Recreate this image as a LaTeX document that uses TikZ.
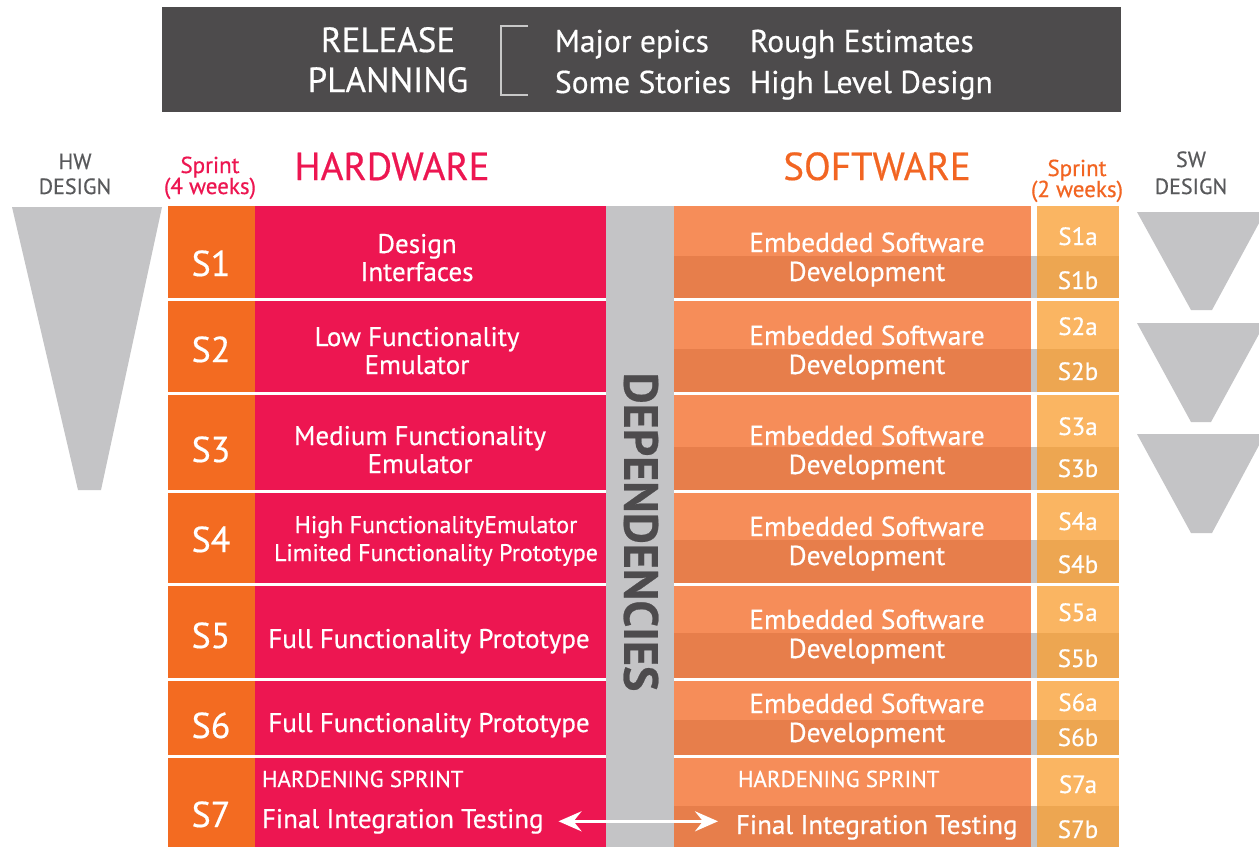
\documentclass[tikz,border=0pt]{standalone}
\usepackage{fontspec}
\setmainfont{PT Sans}[FakeBold=0.5]
\usetikzlibrary{arrows.meta,calc}
\definecolor{banner}{HTML}{4D4B4C}
\definecolor{crimson}{HTML}{ED1651}
\definecolor{sprintcol}{HTML}{F36B21}
\definecolor{swtitle}{HTML}{F26522}
\definecolor{swa}{HTML}{F68D59}
\definecolor{swb}{HTML}{E77E4B}
\definecolor{spa}{HTML}{FAB562}
\definecolor{spb}{HTML}{EDA651}
\definecolor{depgray}{HTML}{C4C4C6}
\definecolor{deptext}{HTML}{4D4B4D}
\definecolor{headgray}{HTML}{58595B}
\definecolor{bracketgray}{HTML}{C8C8C8}
\tikzset{
  txt/.style={inner sep=0pt, outer sep=0pt, anchor=base, text=white},
  bantext/.style={txt, font=\fontsize{35}{40}\selectfont},
  banitem/.style={txt, anchor=base west, font=\fontsize{31.5}{36}\selectfont},
  sidehead/.style={txt, text=headgray, font=\fontsize{22}{26}\selectfont},
  bighead/.style={txt, font=\fontsize{39}{44}\selectfont},
  sprinthead/.style={txt, font=\fontsize{23}{26}\selectfont},
  slabel/.style={txt, font=\fontsize{36}{40}\selectfont},
  sublabel/.style={txt, font=\fontsize{25}{28}\selectfont},
  hwtext/.style={txt, font=\fontsize{27}{30}\selectfont},
  hwsmall/.style={txt, font=\fontsize{24}{28}\selectfont},
  swtext/.style={txt, font=\fontsize{27.5}{30}\selectfont},
  hardening/.style={txt, anchor=base west, font=\fontsize{23}{26}\selectfont},
  fittext/.style={txt, anchor=base west, font=\fontsize{27}{30}\selectfont},
  trishape/.style={fill=depgray},
  dblarrow/.style={draw=white, line width=3pt, {Stealth[length=23pt,width=20pt,inset=8pt]}-{Stealth[length=23pt,width=20pt,inset=8pt]}},
}
\begin{document}
\begin{tikzpicture}[x=1pt,y=-1pt]
\useasboundingbox (0,0) rectangle (1259,847);
\fill[white] (0,0) rectangle (1259,847);

% ---- release planning banner
\fill[banner] (162,7) rectangle (1121,112);
\node[bantext] (rel) at (388,52) {RELEASE};
\node[bantext] (plan) at (388,92) {PLANNING};
\draw[bracketgray, line width=1.2pt] (528,26) -- (501,26) -- (501,95) -- (528,95);
\node[banitem] (epics) at (555,52) {Major epics};
\node[banitem] (rough) at (750,52) {Rough Estimates};
\node[banitem] (stories) at (555,93) {Some Stories};
\node[banitem] (hld) at (750,93) {High Level Design};

% ---- column headings
\node[sidehead] (hw1) at (75,169) {HW};
\node[sidehead] (hw2) at (75,194) {DESIGN};
\node[sprinthead, text=crimson] (sp4a) at (210,173) {Sprint};
\node[sprinthead, text=crimson] (sp4b) at (210,194) {(4 weeks)};
\node[bighead, text=crimson] (hwhead) at (392,180) {HARDWARE};
\node[bighead, text=swtitle] (swhead) at (877,180) {SOFTWARE};
\node[sprinthead, text=swtitle] (sp2a) at (1077,176) {Sprint};
\node[sprinthead, text=swtitle] (sp2b) at (1077,197) {(2 weeks)};
\node[sidehead] (sw1) at (1191,167) {SW};
\node[sidehead] (sw2) at (1191,194) {DESIGN};

% ---- design funnels
\fill[trishape] (12,207) -- (162,207) -- (101,490) -- (78,490) -- cycle;
\begin{scope}
\clip (1100,200) rectangle (1259,560);
\fill[trishape] (1137,212) -- (1265,212) -- (1212,310) -- (1191,310) -- cycle;
\fill[trishape] (1137,323) -- (1265,323) -- (1211,422) -- (1191,422) -- cycle;
\fill[trishape] (1137,434) -- (1265,434) -- (1212,533) -- (1191,533) -- cycle;
\end{scope}

% ---- table rows
\fill[depgray] (606,206) rectangle (674,847);
\foreach \t/\b/\m in {206/298/256, 301/392/349, 395/490/447, 493/583/540, 586/678/633, 681/755/720, 758/847/806} {
  \fill[sprintcol] (168,\t) rectangle (255,\b);
  \fill[crimson] (255,\t) rectangle (606,\b);
  \fill[swa] (674,\t) rectangle (1031,\m);
  \fill[swb] (674,\m) rectangle (1031,\b);
  \fill[depgray] (1031,\m) rectangle (1037,\b);
  \fill[spa] (1037,\t) rectangle (1119,\m);
  \fill[spb] (1037,\m) rectangle (1119,\b);
}

% ---- dependencies
\node[inner sep=0pt, rotate=-90, text=deptext, font=\fontsize{48}{52}\selectfont\bfseries] (dep) at (641,532) {DEPENDENCIES};

% ---- sprint labels (4 weeks)
\foreach \y [count=\i] in {276,362,462,552,648,738,827}
  \node[slabel] (s\i) at (211,\y) {S\i};

% ---- sprint labels (2 weeks)
\foreach \ya/\yb [count=\i] in {245/289, 335/380, 435/477, 530/573, 621/667, 711/746, 793/838} {
  \node[sublabel] (s\i a) at (1078,\ya) {S\i a};
  \node[sublabel] (s\i b) at (1078,\yb) {S\i b};
}

% ---- software texts
\foreach \ya/\yb [count=\i] in {252/281, 345/374, 445/474, 536/565, 629/658, 713/742} {
  \node[swtext] (esw\i) at (867,\ya) {Embedded Software};
  \node[swtext] (dev\i) at (867,\yb) {Development};
}

% ---- hardware texts
\node[hwtext] (hw1a) at (417,253) {Design};
\node[hwtext] (hw1b) at (417,281) {Interfaces};
\node[hwtext] (hw2a) at (417,346) {Low Functionality};
\node[hwtext] (hw2b) at (417,374) {Emulator};
\node[hwtext] (hw3a) at (420,445) {Medium Functionality};
\node[hwtext] (hw3b) at (420,473) {Emulator};
\node[hwsmall] (hw4a) at (436,533) {High FunctionalityEmulator};
\node[hwsmall] (hw4b) at (436,561) {Limited Functionality Prototype};
\node[hwtext] (hw5) at (429,648) {Full Functionality Prototype};
\node[hwtext] (hw6) at (429,732) {Full Functionality Prototype};

% ---- hardening sprint
\node[hardening] (hwhard) at (262,787) {HARDENING SPRINT};
\node[fittext] (hwfit) at (262,828) {Final Integration Testing};
\node[hardening] (swhard) at (738,787) {HARDENING SPRINT};
\node[fittext] (swfit) at (736,834) {Final Integration Testing};

\draw[dblarrow, shorten <=15pt, shorten >=18pt] (hwfit.east) -- (hwfit.east -| swfit.west);
\end{tikzpicture}
\end{document}
